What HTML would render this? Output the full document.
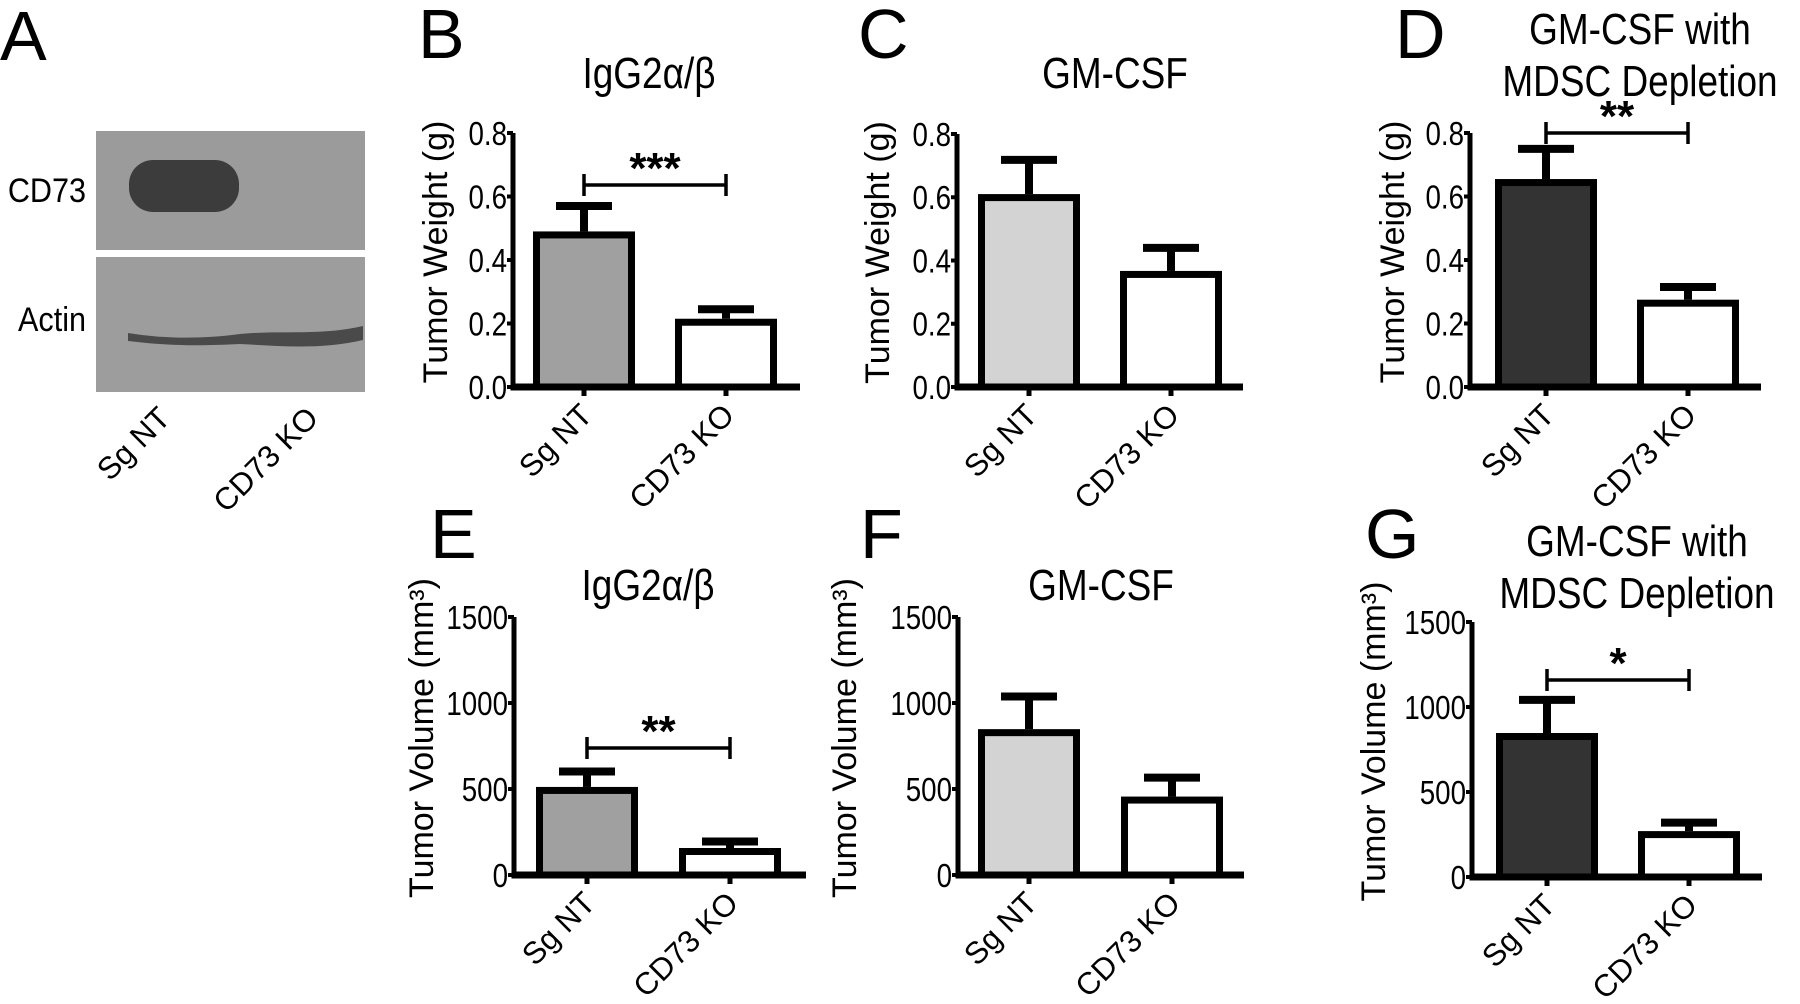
<!DOCTYPE html>
<html><head><meta charset="utf-8"><style>
html,body{margin:0;padding:0;background:#fff;}
svg{display:block;font-family:"Liberation Sans",sans-serif;}
</style></head><body>
<svg id="fig" width="1800" height="1004" viewBox="0 0 1800 1004">
  <g>
    <text x="0" y="60" font-size="70">A</text>
    <rect x="96" y="131" width="269" height="119" fill="#9b9b9b"/>
    <rect x="96" y="257" width="269" height="135" fill="#9d9d9d"/>
    <rect x="129" y="160" width="110" height="52" rx="24" fill="#3c3c3c"/>
    <path d="M128 333 C170 340 210 338 240 334 C280 330 320 336 363 326 L363 340 C320 350 280 346 240 344 C200 346 170 346 128 341 Z" fill="#4a4a4a"/>
    <text x="86" y="202" font-size="34" text-anchor="end" transform="translate(86,0) scale(0.9,1) translate(-86,0)">CD73</text>
    <text x="86" y="331" font-size="34" text-anchor="end" transform="translate(86,0) scale(0.9,1) translate(-86,0)">Actin</text>
    <text transform="translate(172,420) rotate(-45)" font-size="31" text-anchor="end">Sg NT</text>
    <text transform="translate(320,420) rotate(-45)" font-size="31" text-anchor="end">CD73 KO</text>
  </g>
  <g id="charts"></g>
</svg>
<script>
// ---- data ----
const categories = ["Sg NT", "CD73 KO"];
const weightTicks = ["0.0","0.2","0.4","0.6","0.8"];
const volumeTicks = ["0","500","1000","1500"];
const bMeans = [0.49, 0.215]; const bErr = [0.08, 0.03];
const cMeans = [0.61, 0.367]; const cErr = [0.108, 0.073];
const dMeans = [0.655, 0.275]; const dErr = [0.095, 0.04];
const eMeans = [512, 157]; const eErr = [90, 38];
const fMeans = [848, 456]; const fErr = [190, 110];
const gMeans = [847, 270]; const gErr = [195, 50];

const NS = "http://www.w3.org/2000/svg";
const root = document.getElementById('charts');
function mk(tag, attrs, parent){
  const e = document.createElementNS(NS, tag);
  for (const k in attrs) e.setAttribute(k, attrs[k]);
  parent.appendChild(e);
  return e;
}

const panels = [
  {id:'b', letter:'B', lx:418, ly:58, ax:513, y0:387, yTop:133, xEnd:800, cx:[584,726], max:0.8, ticks:weightTicks, means:bMeans, err:bErr, fill:'#a0a0a0', title:['IgG2α/β'], tx:649, ty:[88], ylab:'Tumor Weight (g)', ylx:442, sig:{y:185, t:'***'}},
  {id:'c', letter:'C', lx:858, ly:58, ax:957, y0:387, yTop:134, xEnd:1243, cx:[1029,1171], max:0.8, ticks:weightTicks, means:cMeans, err:cErr, fill:'#d3d3d3', title:['GM-CSF'], tx:1115, ty:[88], ylab:'Tumor Weight (g)', ylx:884, sig:null},
  {id:'d', letter:'D', lx:1395, ly:58, ax:1470, y0:387, yTop:133, xEnd:1761, cx:[1546,1688], max:0.8, ticks:weightTicks, means:dMeans, err:dErr, fill:'#333333', title:['GM-CSF with','MDSC Depletion'], tx:1640, ty:[44,96], ylab:'Tumor Weight (g)', ylx:1399, sig:{y:133, t:'**'}},
  {id:'e', letter:'E', lx:430, ly:558, ax:514, y0:875, yTop:617, xEnd:806, cx:[587,730], max:1500, ticks:volumeTicks, means:eMeans, err:eErr, fill:'#a0a0a0', title:['IgG2α/β'], tx:648, ty:[600], ylab:'Tumor Volume (mm³)', ylx:428, sig:{y:748, t:'**'}},
  {id:'f', letter:'F', lx:860, ly:558, ax:958, y0:875, yTop:617, xEnd:1244, cx:[1029,1172], max:1500, ticks:volumeTicks, means:fMeans, err:fErr, fill:'#d3d3d3', title:['GM-CSF'], tx:1101, ty:[600], ylab:'Tumor Volume (mm³)', ylx:851, sig:null},
  {id:'g', letter:'G', lx:1365, ly:558, ax:1472, y0:877, yTop:622, xEnd:1762, cx:[1547,1689], max:1500, ticks:volumeTicks, means:gMeans, err:gErr, fill:'#333333', title:['GM-CSF with','MDSC Depletion'], tx:1637, ty:[556,608], ylab:'Tumor Volume (mm³)', ylx:1380, sig:{y:680, t:'*'}}
];

panels.forEach(p => {
  const g = mk('g', {}, root);
  
  
  const yS = v => p.y0 - (v / p.max) * (p.y0 - p.yTop);

  const L = mk('text', {x:p.lx, y:p.ly, 'font-size':70}, g);
  L.textContent = p.letter;
  
  

  p.title.forEach((t, i) => {
    const T = mk('text', {x:p.tx, y:p.ty[i], 'font-size':44, 'text-anchor':'middle', transform:`translate(${p.tx},0) scale(0.84,1) translate(${-p.tx},0)`}, g);
    T.textContent = t;
    
    
  });

  const midY = (p.y0 + p.yTop) / 2 - 8;
  const Y = mk('text', {transform:`translate(${p.ylx + 5},${midY}) rotate(-90)`, 'font-size':34, 'text-anchor':'middle'}, g);
  Y.textContent = p.ylab;
  
  

  p.ticks.forEach(t => {
    const v = parseFloat(t);
    const ty = yS(v);
    const tk = mk('line', {x1:p.ax - 6, x2:p.ax, y1:ty, y2:ty, stroke:'#000', 'stroke-width':4}, g);
    
    
    const tl = mk('text', {x:p.ax - 6, y:ty + 12, 'font-size':33, 'text-anchor':'end', transform:`translate(${p.ax - 6},0) scale(0.84,1) translate(${-(p.ax - 6)},0)`}, g);
    tl.textContent = t;
    
    
  });

  p.means.forEach((m, i) => {
    const cx = p.cx[i];
    const top = yS(m), capY = yS(m + p.err[i]);
    const stem = mk('line', {x1:cx, x2:cx, y1:top, y2:capY, stroke:'#000', 'stroke-width':8}, g);
    
    
    const cap = mk('line', {x1:cx - 28, x2:cx + 28, y1:capY, y2:capY, stroke:'#000', 'stroke-width':8}, g);
    
    
    const fill = i === 0 ? p.fill : '#ffffff';
    const r = mk('rect', {x:cx - 47.5, y:top + 3.5, width:95, height:p.y0 - top - 3.5, fill:fill, stroke:'#000', 'stroke-width':7}, g);
    
    
    const xt = mk('line', {x1:cx, x2:cx, y1:p.y0, y2:p.y0 + 9, stroke:'#000', 'stroke-width':5}, g);
    
    
    const cl = mk('text', {transform:`translate(${cx + 10},${p.y0 + 30}) rotate(-45)`, 'font-size':31, 'text-anchor':'end'}, g);
    cl.textContent = categories[i];
    
    
  });

  const ya = mk('line', {x1:p.ax, x2:p.ax, y1:p.yTop, y2:p.y0 + 2.5, stroke:'#000', 'stroke-width':5}, g);
  
  
  const xa = mk('line', {x1:p.ax - 2.5, x2:p.xEnd, y1:p.y0, y2:p.y0, stroke:'#000', 'stroke-width':7}, g);
  
  

  if (p.sig) {
    const s = mk('path', {d:`M${p.cx[0]} ${p.sig.y - 11} V${p.sig.y + 11} M${p.cx[0]} ${p.sig.y} H${p.cx[1]} M${p.cx[1]} ${p.sig.y - 11} V${p.sig.y + 11}`, stroke:'#000', 'stroke-width':3.5, fill:'none'}, g);
    
    
    const st = mk('text', {x:(p.cx[0] + p.cx[1]) / 2, y:p.sig.y - 2, 'font-size':44, 'font-weight':'bold', 'text-anchor':'middle'}, g);
    st.textContent = p.sig.t;
    
    
  }
});
</script>
</body></html>
